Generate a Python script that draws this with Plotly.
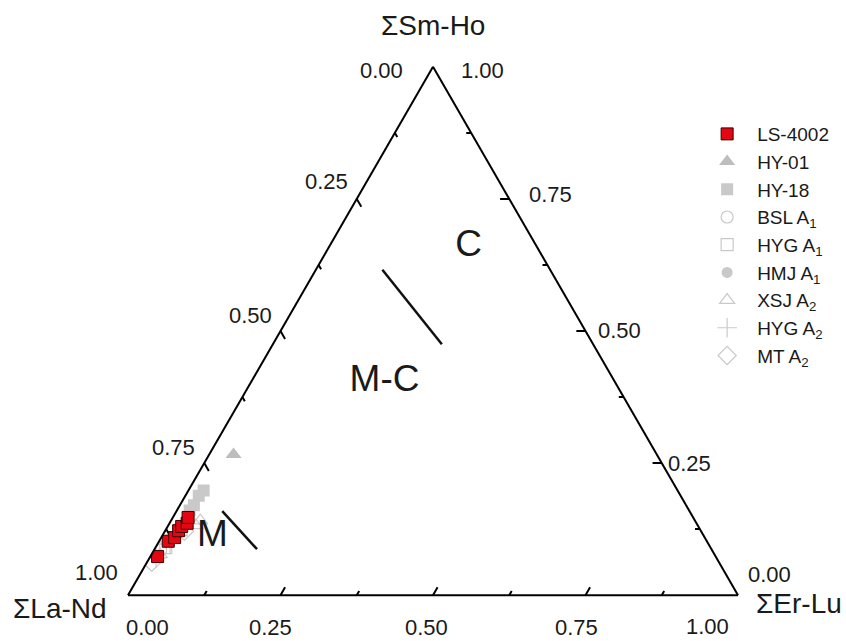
import plotly.graph_objects as go

# ---------------- data (ternary components) ----------------
# each series: Sm-Ho (top vertex), La-Nd (bottom-left vertex), Er-Lu (bottom-right vertex)
ls4002_smho = [0.073, 0.102, 0.109, 0.122, 0.130, 0.136, 0.147]
ls4002_land = [0.915, 0.883, 0.869, 0.856, 0.847, 0.835, 0.828]
ls4002_erlu = [0.012, 0.015, 0.022, 0.022, 0.023, 0.029, 0.025]

hy01_smho = [0.266]
hy01_land = [0.694]
hy01_erlu = [0.040]

hy18_smho = [0.198, 0.188, 0.170, 0.160]
hy18_land = [0.777, 0.790, 0.807, 0.819]
hy18_erlu = [0.025, 0.022, 0.023, 0.021]

bsl_smho = [0.085, 0.107]
bsl_land = [0.904, 0.875]
bsl_erlu = [0.011, 0.018]

hyga1_smho = [0.090, 0.124]
hyga1_land = [0.893, 0.851]
hyga1_erlu = [0.017, 0.025]

hmj_smho = [0.115]
hmj_land = [0.862]
hmj_erlu = [0.023]

xsj_smho = [0.132, 0.141, 0.077]
xsj_land = [0.823, 0.811, 0.909]
xsj_erlu = [0.045, 0.048, 0.014]

hyga2_smho = [0.070, 0.098]
hyga2_land = [0.919, 0.882]
hyga2_erlu = [0.011, 0.020]

mt_smho = [0.062, 0.121]
mt_land = [0.930, 0.847]
mt_erlu = [0.008, 0.032]

# field boundary segments (two endpoints each)
bnd1_smho = [0.159, 0.087]
bnd1_land = [0.766, 0.745]
bnd1_erlu = [0.075, 0.168]
bnd2_smho = [0.616, 0.475]
bnd2_land = [0.275, 0.248]
bnd2_erlu = [0.109, 0.277]

# field labels
field_names = ["C", "M-C", "M"]
field_smho = [0.659, 0.403, 0.111]
field_land = [0.112, 0.378, 0.806]
field_erlu = [0.229, 0.219, 0.083]

# axis ticks
tick_vals = [0.0, 0.125, 0.25, 0.375, 0.5, 0.625, 0.75, 0.875, 1.0]
label_vals = [0.0, 0.25, 0.5, 0.75, 1.0]
label_text = ["0.00", "0.25", "0.50", "0.75", "1.00"]

# ---------------- styling ----------------
FONT = "Liberation Sans, Arial, sans-serif"
TXT = "#1a1a1a"
LIGHT = "#c9c9c9"
MID = "#bdbdbd"

fig = go.Figure()


def add_series(name, a, b, c, symbol, color, size, lcolor, lwidth, rank):
    fig.add_trace(go.Scatterternary(
        a=a, b=b, c=c, mode="markers", name=name, legendrank=rank,
        legendgroup=name,
        marker=dict(symbol=symbol, size=size, color=color,
                    line=dict(color=lcolor, width=lwidth)),
        hoverinfo="skip"))


# hidden reference samples first (drawn beneath)
add_series("BSL A<sub>1</sub>", bsl_smho, bsl_land, bsl_erlu, "circle-open", LIGHT, 12, LIGHT, 1.2, 4)
add_series("HYG A<sub>1</sub>", hyga1_smho, hyga1_land, hyga1_erlu, "square-open", LIGHT, 12, LIGHT, 1.2, 5)
add_series("HMJ A<sub>1</sub>", hmj_smho, hmj_land, hmj_erlu, "circle", LIGHT, 11, LIGHT, 0, 6)
add_series("XSJ A<sub>2</sub>", xsj_smho, xsj_land, xsj_erlu, "triangle-up-open", LIGHT, 13, LIGHT, 1.2, 7)
add_series("HYG A<sub>2</sub>", hyga2_smho, hyga2_land, hyga2_erlu, "cross-thin-open", LIGHT, 14, LIGHT, 1.2, 8)
add_series("MT A<sub>2</sub>", mt_smho, mt_land, mt_erlu, "diamond-open", LIGHT, 14, LIGHT, 1.2, 9)
add_series("HY-18", hy18_smho, hy18_land, hy18_erlu, "square", LIGHT, 12, LIGHT, 0, 3)
add_series("HY-01", hy01_smho, hy01_land, hy01_erlu, "triangle-up", MID, 14, MID, 0, 2)
add_series("LS-4002", ls4002_smho, ls4002_land, ls4002_erlu, "square", "#e30613", 12, "#3a0000", 1, 1)

# tick marks (inside, along the grid direction of each labelled component)
ta, tb, tc = [], [], []
for t in tick_vals:
    if t in (0.0, 1.0):
        continue
    d = 0.015 if t in label_vals else 0.008
    # bottom edge : Er-Lu = t
    ta += [0, d, None]; tb += [1 - t, 1 - t - d, None]; tc += [t, t, None]
    # left edge : La-Nd = t
    ta += [1 - t, 1 - t - d, None]; tb += [t, t, None]; tc += [0, d, None]
    # right edge : Sm-Ho = t
    ta += [t, t, None]; tb += [0, d, None]; tc += [1 - t, 1 - t - d, None]
fig.add_trace(go.Scatterternary(a=ta, b=tb, c=tc, mode="lines", showlegend=False,
                                line=dict(color="black", width=2), hoverinfo="skip"))

# field boundaries
for a, b, c in [(bnd1_smho, bnd1_land, bnd1_erlu), (bnd2_smho, bnd2_land, bnd2_erlu)]:
    fig.add_trace(go.Scatterternary(a=a, b=b, c=c, mode="lines", showlegend=False,
                                    line=dict(color="#111111", width=2.5), hoverinfo="skip"))

# field labels
fig.add_trace(go.Scatterternary(a=field_smho, b=field_land, c=field_erlu, mode="text",
                                text=field_names, showlegend=False, hoverinfo="skip",
                                textfont=dict(family=FONT, size=37, color=TXT)))


# ---------------- tick labels & titles as annotations ----------------
def paper(a, b, c):
    s = a + b + c
    a, c = a / s, c / s
    return c + a / 2.0, a


annotations = []
# left edge labels : La-Nd
left_shift = [(-28, -4), (-7, 17), (-7, 16), (-7, 16), (-8, 24)]
for v, txt, (dx, dy) in zip(label_vals, label_text, left_shift):
    x, y = paper(1 - v, v, 0)
    annotations.append(dict(x=x, y=y, text=txt, xanchor="right", yanchor="middle",
                            xshift=dx, yshift=dy))
# bottom edge labels : Er-Lu
bottom_shift = [(19, -31), (-10, -31), (-7, -31), (-9, -31), (-31, -30)]
for v, txt, (dx, dy) in zip(label_vals, label_text, bottom_shift):
    x, y = paper(0, 1 - v, v)
    annotations.append(dict(x=x, y=y, text=txt, xanchor="center", yanchor="middle",
                            xshift=dx, yshift=dy))
# right edge labels : Sm-Ho
right_shift = [(8, 22), (4, 0), (10, 1), (18, 4), (26, -4)]
for v, txt, (dx, dy) in zip(label_vals, label_text, right_shift):
    x, y = paper(v, 0, 1 - v)
    annotations.append(dict(x=x, y=y, text=txt, xanchor="left", yanchor="middle",
                            xshift=dx, yshift=dy))
for ann in annotations:
    ann.update(xref="paper", yref="paper", showarrow=False,
               font=dict(family=FONT, size=22, color=TXT))

title_font = dict(family=FONT, size=28, color=TXT)
tx, ty = paper(1, 0, 0)
annotations.append(dict(x=tx, y=ty, xref="paper", yref="paper", text="ΣSm-Ho", showarrow=False,
                        xanchor="center", yanchor="middle", yshift=41, font=title_font))
tx, ty = paper(0, 1, 0)
annotations.append(dict(x=tx, y=ty, xref="paper", yref="paper", text="ΣLa-Nd", showarrow=False,
                        xanchor="center", yanchor="middle", xshift=-68, yshift=-12, font=title_font))
tx, ty = paper(0, 0, 1)
annotations.append(dict(x=tx, y=ty, xref="paper", yref="paper", text="ΣEr-Lu", showarrow=False,
                        xanchor="center", yanchor="middle", xshift=61, yshift=-7, font=title_font))

axis_style = dict(showticklabels=False, ticks="", showgrid=False, linecolor="black",
                  linewidth=2, title=dict(text=""))

fig.update_layout(
    width=846, height=641,
    margin=dict(l=128, r=106, t=66, b=45),
    paper_bgcolor="white", plot_bgcolor="white",
    font=dict(family=FONT, color=TXT),
    ternary=dict(sum=1, bgcolor="white", domain=dict(x=[0, 1], y=[0, 1]),
                 aaxis=axis_style, baxis=axis_style, caxis=axis_style),
    annotations=annotations,
    showlegend=True,
    legend=dict(x=0.933, y=0.9075, xanchor="left", yanchor="top",
                font=dict(family=FONT, size=19, color=TXT),
                bgcolor="rgba(0,0,0,0)", traceorder="grouped", tracegroupgap=0,
                itemwidth=50),
)

fig.write_html("out.html")
